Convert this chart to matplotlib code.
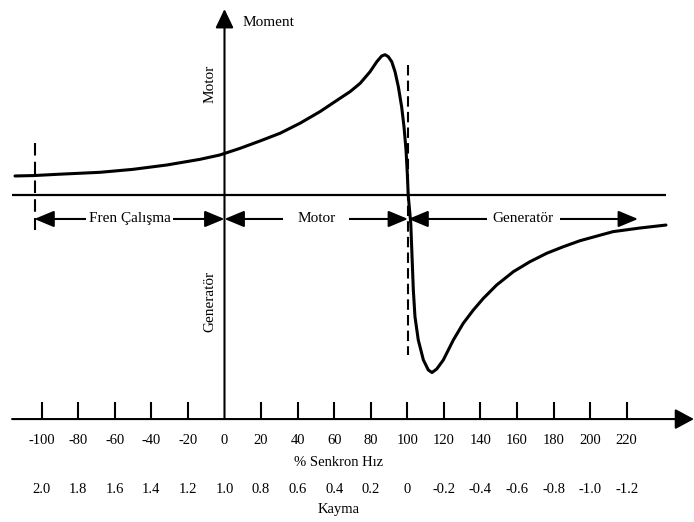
import matplotlib
matplotlib.use("Agg")
import matplotlib.pyplot as plt
from matplotlib.patches import FancyArrowPatch, ArrowStyle

plt.rcParams['font.family'] = ['Liberation Serif', 'DejaVu Serif']

# ---------------- data ----------------
speed_pct = [-114.6, -104.2, -91.1, -68.1, -50.1, -31.5, -13.4, -2.5, 8.5, 19.4, 30.4,
             41.3, 52.2, 63.2, 68.7, 74.2, 79.6, 83.3, 86.0, 87.8, 89.6, 91.5, 93.3,
             95.1, 96.9, 98.2, 99.3, 100.0, 100.5, 101.9, 102.6, 103.3, 104.2, 106.0,
             108.8, 111.5, 113.5, 116.1, 119.7, 125.2, 130.6, 136.1, 141.6, 148.9,
             158.0, 167.1, 176.3, 185.3, 194.5, 212.5, 227.3, 241.5]
torque = [0.135, 0.138, 0.147, 0.161, 0.182, 0.213, 0.253, 0.284, 0.331, 0.383, 0.438,
          0.509, 0.591, 0.686, 0.733, 0.792, 0.874, 0.945, 0.986, 0.995, 0.981, 0.945, 0.874,
          0.768, 0.626, 0.484, 0.319, 0.154, 0.0, -0.201, -0.438, -0.674, -0.863, -1.028,
          -1.170, -1.241, -1.259, -1.234, -1.170, -1.028, -0.910, -0.816, -0.733, -0.638,
          -0.544, -0.473, -0.413, -0.367, -0.324, -0.260, -0.234, -0.213]

speed_ticks = [-100, -80, -60, -40, -20, 0, 20, 40, 60, 80, 100, 120, 140, 160, 180, 200, 220]
speed_labels = ['-100', '-80', '-60', '-40', '-20', '0', '20', '40', '60', '80', '100',
                '120', '140', '160', '180', '200', '220']
slip_labels = ['2.0', '1.8', '1.6', '1.4', '1.2', '1.0', '0.8', '0.6', '0.4', '0.2', '0',
               '-0.2', '-0.4', '-0.6', '-0.8', '-1.0', '-1.2']

region_names = ['Fren Çalışma', 'Motor', 'Generatör']
region_bounds = [(-104.0, 0.0), (0.0, 100.4), (100.6, 226.2)]

speed_axis_title = '% Senkron Hız'
slip_axis_title = 'Kayma'
torque_axis_title = 'Moment'
quadrant_labels = ['Motor', 'Generatör']

# ---------------- figure ----------------
fig = plt.figure(figsize=(6.94, 5.22), dpi=100)
ax = fig.add_axes([0, 0, 1, 1])
ax.set_xlim(-122.81, 256.84)
ax.set_ylim(-2.319, 1.383)
ax.axis('off')

k = 'black'
y_base = -1.589   # speed axis level

# speed axis with arrow
ax.add_patch(FancyArrowPatch((-116.2, y_base), (256.8, y_base),
                             arrowstyle=ArrowStyle('-|>', head_length=1.15, head_width=0.62),
                             mutation_scale=10, lw=1.5, color=k, shrinkA=0, shrinkB=0))
# torque axis with arrow
ax.add_patch(FancyArrowPatch((0, y_base), (0, 1.319),
                             arrowstyle=ArrowStyle('-|>', head_length=1.15, head_width=0.55),
                             mutation_scale=10, lw=1.5, color=k, shrinkA=0, shrinkB=0))
# zero torque line
ax.plot([-116.2, 241.5], [0, 0], color=k, lw=1.6, solid_capstyle='butt')

# ticks
for s in speed_ticks:
    if s != 0:
        ax.plot([s, s], [y_base, -1.468], color=k, lw=1.5, solid_capstyle='butt')

# tick labels
for s, lab, sl in zip(speed_ticks, speed_labels, slip_labels):
    ax.text(s, -1.738, lab, ha='center', va='center', fontsize=10.5)
    ax.text(s, -2.085, sl, ha='center', va='center', fontsize=10.5)

ax.text(62.2, -1.894, speed_axis_title, ha='center', va='center', fontsize=10.5)
ax.text(62.2, -2.227, slip_axis_title, ha='center', va='center', fontsize=10.5)
ax.text(10.1, 1.22, torque_axis_title, ha='left', va='center', fontsize=11)
ax.text(-7.9, 0.787, quadrant_labels[0], ha='center', va='center', rotation=90, fontsize=11)
ax.text(-7.9, -0.757, quadrant_labels[1], ha='center', va='center', rotation=90, fontsize=11)

# dashed lines
ax.plot([-103.9, -103.9], [0.369, -0.248], color=k, lw=1.5, dashes=(6, 3))
ax.plot([100.5, 100.5], [0.922, -1.135], color=k, lw=1.5, dashes=(5, 2.5))

# region arrows
y_arr = -0.170
pads = [0.15, 0.9, 0.4]
for name, (a, b), p in zip(region_names, region_bounds, pads):
    ax.add_patch(FancyArrowPatch((a, y_arr), (b, y_arr),
                                 arrowstyle=ArrowStyle('<|-|>', head_length=1.2, head_width=0.5),
                                 mutation_scale=10, lw=1.5, color=k, shrinkA=0, shrinkB=0))
    ax.text((a + b) / 2, y_arr, name, ha='center', va='center', fontsize=11,
            bbox=dict(boxstyle=f'square,pad={p}', fc='white', ec='none'))

# torque-speed curve
ax.plot(speed_pct, torque, color=k, lw=2.2, solid_capstyle='round',
        solid_joinstyle='round', zorder=5)

fig.savefig('out.png', dpi=100, facecolor='white')
